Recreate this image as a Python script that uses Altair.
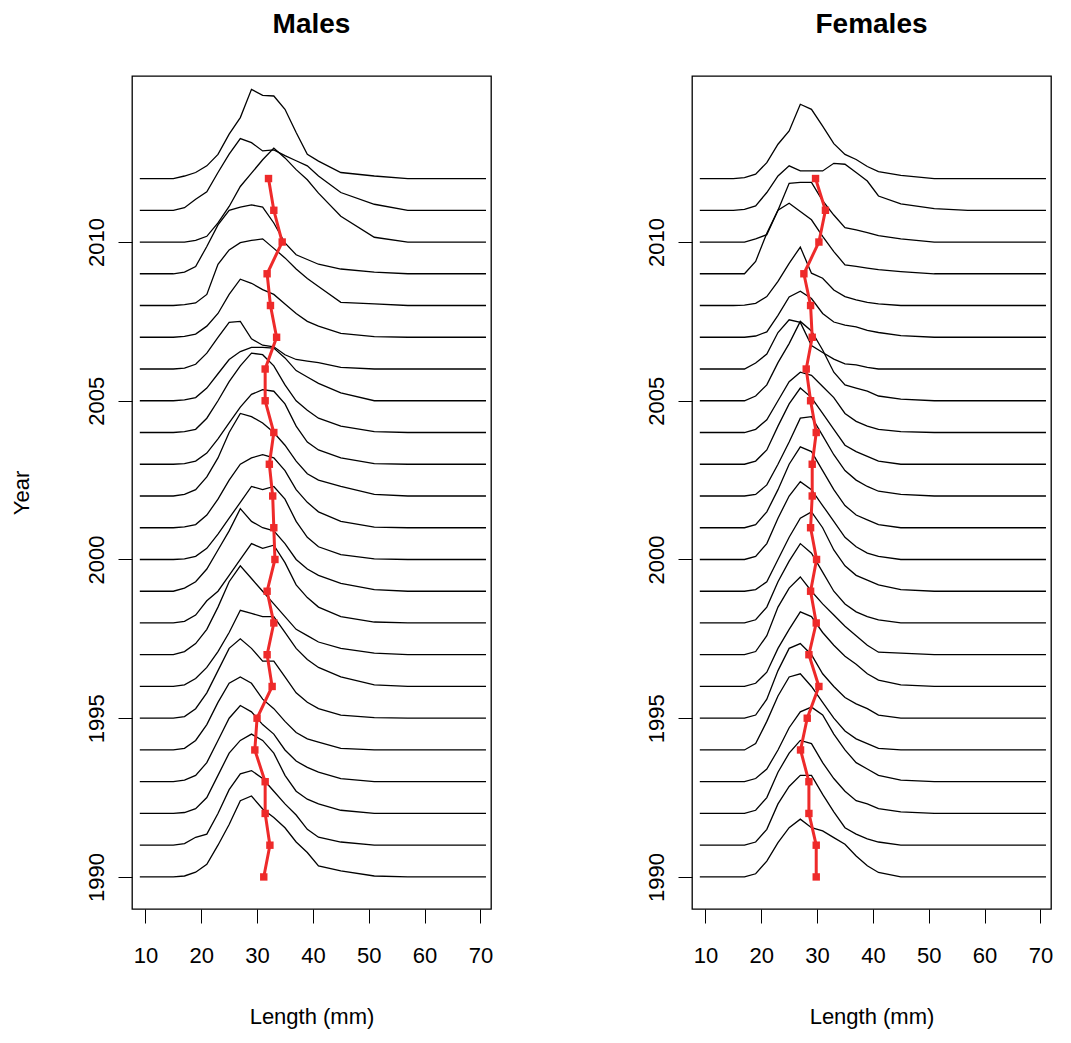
import altair as alt
import pandas as pd

YEARS = list(range(1990, 2013))
LENGTHS = [9, 15, 17, 19, 21, 23, 25, 27, 29, 31, 33, 35, 37, 39, 41, 45, 51, 57, 71]

# heights (in year units) at lengths 17..51, listed 1990 -> 2012
MALE_H = [
    [0.03, 0.15, 0.4, 1.0, 1.65, 2.4, 2.55, 2.14, 1.87, 1.55, 1.1, 0.77, 0.35, 0.19, 0.03],
    [0.05, 0.25, 0.35, 1.0, 1.75, 2.25, 2.35, 2.1, 1.7, 1.3, 0.95, 0.5, 0.25, 0.1, 0],
    [0.03, 0.15, 0.5, 1.2, 1.9, 2.3, 2.5, 2.3, 1.9, 1.2, 0.7, 0.45, 0.3, 0.1, 0],
    [0.05, 0.2, 0.6, 1.3, 2.0, 2.4, 2.2, 1.8, 1.5, 1.0, 0.65, 0.45, 0.3, 0.1, 0],
    [0.05, 0.3, 0.8, 1.5, 2.1, 2.3, 2.1, 1.6, 1.3, 0.9, 0.55, 0.35, 0.25, 0.05, 0],
    [0.05, 0.3, 0.8, 1.5, 2.2, 2.5, 2.2, 1.8, 1.8, 1.3, 0.8, 0.5, 0.3, 0.1, 0.02],
    [0.05, 0.25, 0.6, 1.1, 1.7, 2.4, 2.3, 2.2, 2.2, 1.7, 1.2, 0.85, 0.6, 0.3, 0.05],
    [0.1, 0.35, 0.8, 1.5, 2.3, 2.8, 2.4, 2.0, 1.6, 1.2, 0.8, 0.6, 0.4, 0.2, 0.05],
    [0.05, 0.25, 0.7, 1.0, 1.5, 2.0, 2.5, 2.35, 2.45, 1.9, 1.2, 0.8, 0.5, 0.2, 0.03],
    [0.1, 0.3, 0.7, 1.3, 1.9, 2.6, 2.2, 2.0, 1.9, 1.5, 1.0, 0.7, 0.5, 0.25, 0.05],
    [0.02, 0.1, 0.35, 0.8, 1.3, 1.8, 2.3, 2.2, 2.3, 1.9, 1.2, 0.7, 0.4, 0.15, 0.02],
    [0.03, 0.1, 0.4, 0.9, 1.5, 2.0, 2.2, 2.3, 2.2, 1.8, 1.2, 0.8, 0.5, 0.2, 0.02],
    [0.05, 0.2, 0.6, 1.2, 2.0, 2.6, 2.5, 2.3, 2.0, 1.6, 1.1, 0.7, 0.5, 0.3, 0.05],
    [0.02, 0.1, 0.35, 0.8, 1.3, 1.8, 2.2, 2.35, 2.3, 1.9, 1.2, 0.7, 0.45, 0.2, 0.02],
    [0.03, 0.1, 0.45, 1.0, 1.6, 2.1, 2.5, 2.45, 2.1, 1.5, 1.0, 0.7, 0.45, 0.2, 0.03],
    [0.03, 0.1, 0.4, 0.85, 1.3, 1.55, 1.68, 1.68, 1.66, 1.35, 0.95, 0.75, 0.55, 0.25, 0],
    [0.03, 0.15, 0.5, 1.0, 1.47, 1.5, 0.95, 0.75, 0.7, 0.45, 0.3, 0.25, 0.2, 0.05, 0],
    [0.03, 0.1, 0.35, 0.75, 1.35, 1.83, 1.7, 1.5, 1.35, 1.05, 0.75, 0.5, 0.35, 0.12, 0.02],
    [0.03, 0.08, 0.35, 1.3, 1.75, 1.98, 2.05, 2.1, 1.8, 1.5, 1.15, 0.85, 0.6, 0.1, 0.05],
    [0.05, 0.23, 0.86, 1.54, 2.0, 2.1, 2.17, 2.1, 1.6, 0.97, 0.6, 0.45, 0.3, 0.15, 0.05],
    [0, 0.05, 0.18, 0.6, 1.12, 1.75, 2.17, 2.59, 2.96, 2.65, 2.28, 1.96, 1.54, 0.81, 0.15],
    [0.08, 0.35, 0.58, 1.19, 1.77, 2.26, 2.13, 1.87, 1.9, 1.72, 1.56, 1.4, 1.08, 0.56, 0.19],
    [0.08, 0.19, 0.4, 0.76, 1.4, 1.92, 2.81, 2.62, 2.6, 2.18, 1.45, 0.76, 0.55, 0.19, 0.08],
]
FEMALE_H = [
    [0, 0.1, 0.5, 1.08, 1.55, 1.82, 1.55, 1.45, 1.24, 1.03, 0.66, 0.35, 0.14, 0, 0],
    [0, 0.1, 0.5, 1.3, 1.85, 2.2, 2.2, 1.6, 1.05, 0.55, 0.35, 0.2, 0.1, 0, 0],
    [0, 0.1, 0.5, 1.3, 1.9, 2.3, 2.2, 1.6, 1.1, 0.7, 0.4, 0.3, 0.15, 0.05, 0],
    [0, 0.1, 0.4, 1.0, 1.7, 2.2, 2.35, 2.1, 1.5, 1.0, 0.6, 0.4, 0.2, 0.05, 0],
    [0, 0.2, 0.9, 1.7, 2.3, 2.4, 2.0, 1.5, 1.0, 0.6, 0.35, 0.2, 0.05, 0, 0],
    [0, 0.1, 0.6, 1.5, 2.2, 2.35, 2.0, 1.4, 1.0, 0.65, 0.45, 0.3, 0.1, 0, 0],
    [0, 0.1, 0.45, 1.2, 1.8, 2.35, 2.2, 1.7, 1.3, 0.95, 0.7, 0.4, 0.2, 0.05, 0],
    [0, 0.1, 0.6, 1.5, 2.1, 2.45, 2.0, 1.6, 1.25, 0.9, 0.6, 0.3, 0.08, 0.05, 0],
    [0, 0.1, 0.5, 1.3, 1.95, 2.5, 2.2, 1.6, 1.0, 0.6, 0.35, 0.2, 0.1, 0, 0],
    [0, 0.05, 0.3, 1.0, 1.7, 2.3, 2.5, 2.0, 1.3, 0.8, 0.5, 0.35, 0.2, 0.05, 0],
    [0, 0.1, 0.5, 1.3, 2.0, 2.45, 2.2, 1.7, 1.2, 0.7, 0.4, 0.2, 0.1, 0, 0],
    [0, 0.1, 0.5, 1.2, 2.0, 2.55, 2.4, 1.8, 1.2, 0.7, 0.4, 0.25, 0.1, 0, 0],
    [0, 0.05, 0.35, 1.0, 1.7, 2.45, 2.5, 1.9, 1.3, 0.8, 0.5, 0.3, 0.15, 0.05, 0],
    [0, 0.1, 0.45, 1.2, 1.9, 2.4, 2.1, 1.6, 1.1, 0.6, 0.4, 0.25, 0.1, 0, 0],
    [0, 0.1, 0.4, 1.0, 1.6, 1.9, 1.8, 1.45, 1.1, 0.6, 0.35, 0.2, 0.1, 0.03, 0],
    [0, 0.15, 0.5, 1.2, 1.8, 2.5, 2.2, 1.6, 0.9, 0.5, 0.4, 0.3, 0.15, 0.05, 0],
    [0, 0.19, 0.47, 1.15, 1.55, 1.47, 0.74, 0.52, 0.31, 0.16, 0.13, 0.05, 0, 0, 0],
    [0, 0.04, 0.17, 0.69, 1.27, 1.45, 1.22, 0.75, 0.48, 0.38, 0.33, 0.22, 0.15, 0.05, 0],
    [0.01, 0.07, 0.28, 0.76, 1.33, 1.84, 1.02, 0.86, 0.49, 0.28, 0.18, 0.1, 0.05, 0, 0],
    [0, 0.39, 1.28, 2.0, 2.22, 1.96, 1.7, 1.18, 0.7, 0.28, 0.23, 0.18, 0.13, 0.07, 0],
    [0, 0.1, 0.23, 1.0, 1.85, 1.88, 1.88, 1.3, 0.85, 0.45, 0.38, 0.3, 0.2, 0.1, 0],
    [0.03, 0.14, 0.56, 1.08, 1.4, 1.24, 1.24, 1.24, 1.48, 1.45, 1.19, 0.92, 0.45, 0.2, 0.05],
    [0.03, 0.14, 0.5, 1.08, 1.5, 2.34, 2.18, 1.65, 1.1, 0.76, 0.6, 0.38, 0.22, 0.1, 0],
]
MALE_MEAN = [31.2, 32.3, 31.45, 31.45, 29.6, 30.0, 32.7, 31.8, 33.0, 31.8, 33.2, 33.0,
             32.8, 32.2, 33.0, 31.45, 31.45, 33.5, 32.4, 31.8, 34.5, 33.0, 32.05]
FEMALE_MEAN = [29.85, 29.85, 28.54, 28.54, 27.04, 28.24, 30.33, 28.54, 29.85, 28.84, 29.91, 28.84,
               29.13, 29.13, 29.85, 28.84, 28.06, 29.13, 28.84, 27.64, 30.33, 31.5, 29.73]

FONT = "Liberation Sans"
W, H = 359, 833
X_DOM = [7.6, 71.9]
Y_DOM = [1988.99, 2015.23]


def curves(heights):
    rows = []
    for yr, hs in zip(YEARS, heights):
        vals = [0, 0] + hs + [0, 0]
        for i, (x, h) in enumerate(zip(LENGTHS, vals)):
            rows.append({"year": yr, "len": x, "y": yr + h, "i": i})
    return pd.DataFrame(rows)


def panel(heights, means, title, show_title):
    xs = alt.X("len:Q", scale=alt.Scale(domain=X_DOM, nice=False, zero=False),
               axis=alt.Axis(values=[10, 20, 30, 40, 50, 60, 70], title="Length (mm)",
                             grid=False, domain=False, tickSize=14, tickColor="black",
                             labelFontSize=22, labelColor="black", labelPadding=22,
                             titleFontSize=22, titleFont=FONT, labelFont=FONT,
                             titleFontWeight="normal", titlePadding=40, titleColor="black"))
    ys = alt.Y("y:Q", scale=alt.Scale(domain=Y_DOM, nice=False, zero=False),
               axis=alt.Axis(values=[1990, 1995, 2000, 2005, 2010], format="d",
                             title="Year" if show_title else None,
                             grid=False, domain=False, tickSize=14, tickColor="black",
                             labelAngle=270, labelFontSize=22, labelColor="black",
                             labelPadding=10, labelAlign="center", labelBaseline="bottom",
                             titleFontSize=22, titleFont=FONT, labelFont=FONT,
                             titleFontWeight="normal", titlePadding=52, titleColor="black"))
    lines = alt.Chart(curves(heights)).mark_line(color="black", strokeWidth=1.3).encode(
        x=xs, y=ys, detail="year:N", order="i:Q")
    mdf = pd.DataFrame({"len": means, "y": YEARS})
    red = alt.Chart(mdf).mark_line(color="#EE2A2A", strokeWidth=3).encode(
        x="len:Q", y="y:Q", order="y:Q")
    pts = alt.Chart(mdf).mark_point(color="#EE2A2A", filled=True, shape="square",
                                    size=55, opacity=1).encode(x="len:Q", y="y:Q")
    return (lines + red + pts).properties(
        width=W, height=H,
        title=alt.TitleParams(title, fontSize=28, font=FONT, fontWeight="bold",
                              color="black", offset=37))


chart = alt.hconcat(
    panel(MALE_H, MALE_MEAN, "Males", True),
    panel(FEMALE_H, FEMALE_MEAN, "Females", False),
    spacing=150,
).configure_view(stroke="black", strokeWidth=1.3).properties(
    padding={"left": 1, "top": 2, "right": 5, "bottom": 5})

chart.save("out.html", embed_options={"renderer": "svg", "actions": False})
